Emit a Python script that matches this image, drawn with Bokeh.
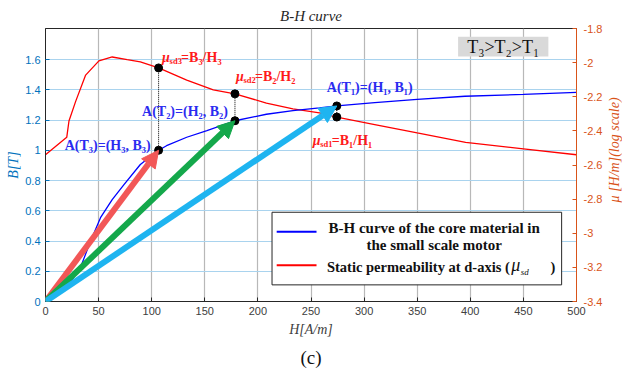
import math
from bokeh.plotting import figure
from bokeh.layouts import row
from bokeh.models import (Range1d, LinearAxis, FixedTicker, CustomJSTickFormatter,
                          Arrow, NormalHead, Title)
from bokeh.core.properties import value
from bokeh.embed import file_html
from bokeh.resources import INLINE

# ---------------- data ----------------
H_bh = [0, 10, 20, 23.7, 33.1, 42.5, 51.8, 62.8, 73.7, 89.3, 106.5, 114, 133, 152,
        178.4, 208, 233, 258, 274.3, 310, 350, 395, 450, 500]
B_bh = [0, 0.04, 0.09, 0.13, 0.228, 0.40, 0.554, 0.674, 0.771, 0.906, 1.0, 1.03, 1.086,
        1.13, 1.195, 1.238, 1.262, 1.28, 1.293, 1.315, 1.336, 1.357, 1.369, 1.383]

H_mu = [0, 20, 22.1, 28.4, 37.8, 50.3, 62.8, 76.9, 89.3, 106.5, 133, 158, 178.4, 208,
        233, 258, 274.3, 310, 350, 395.6, 450, 500]
MU = [-2.54, -2.438, -2.342, -2.227, -2.073, -1.990, -1.967, -1.983, -1.996, -2.031,
      -2.102, -2.16, -2.183, -2.237, -2.271, -2.294, -2.319, -2.363, -2.412, -2.467,
      -2.505, -2.54]

# operating points A(T3), A(T2), A(T1)
H_pts = [106.5, 178.4, 274.3]
B_pts = [1.0, 1.195, 1.293]
MU_pts = [-2.031, -2.183, -2.319]

H_ticks = [0, 50, 100, 150, 200, 250, 300, 350, 400, 450, 500]
B_ticks = [0, 0.2, 0.4, 0.6, 0.8, 1.0, 1.2, 1.4, 1.6]
MU_ticks = [-3.4, -3.2, -3.0, -2.8, -2.6, -2.4, -2.2, -2.0, -1.8]

B_RANGE = (0, 1.805)
MU_RANGE = (-3.4, -1.8)

SERIF = "Liberation Serif"
SANS = "Liberation Sans"
BLUE_AX = "#0072BD"
ORANGE_AX = "#D95319"

p = figure(width=605, height=372, x_range=Range1d(0, 500), y_range=Range1d(*B_RANGE),
           output_backend="svg", toolbar_location=None,
           min_border_left=45, min_border_right=28, min_border_top=24, min_border_bottom=70)
p.extra_y_ranges = {"mu": Range1d(*MU_RANGE)}
p.background_fill_color = "white"
p.border_fill_color = "white"
p.outline_line_color = "#262626"
p.outline_line_width = 1

fmt = CustomJSTickFormatter(code="return String(Number(tick.toFixed(2)));")

# title
p.title.text = "B-H curve"
p.title.align = "center"
p.title.text_font = SERIF
p.title.text_font_style = "italic"
p.title.text_font_size = "15px"
p.title.text_color = "#262626"

# x axis
xa = p.xaxis[0]
xa.ticker = FixedTicker(ticks=H_ticks)
xa.axis_label = "H[A/m]"
xa.axis_label_text_font = SERIF
xa.axis_label_text_font_style = "italic"
xa.axis_label_text_font_size = "14px"
xa.axis_label_text_color = "#404040"
xa.axis_label_standoff = 4
xa.major_label_text_font = SANS
xa.major_label_text_font_size = "11px"
xa.major_label_text_color = "#404040"
xa.major_label_standoff = 5
xa.major_tick_in = 4
xa.major_tick_out = 0
xa.minor_tick_line_color = None
xa.axis_line_color = "#262626"
xa.major_tick_line_color = "#262626"

# left axis
ya = p.yaxis[0]
ya.ticker = FixedTicker(ticks=B_ticks)
ya.formatter = fmt
ya.axis_label = "B[T]"
ya.axis_label_text_font = SERIF
ya.axis_label_text_font_style = "italic"
ya.axis_label_text_font_size = "14px"
ya.axis_label_text_color = BLUE_AX
ya.axis_label_standoff = 1
ya.major_label_text_font = SANS
ya.major_label_text_font_size = "11px"
ya.major_label_text_color = BLUE_AX
ya.major_label_standoff = 5
ya.major_tick_in = 4
ya.major_tick_out = 0
ya.minor_tick_line_color = None
ya.axis_line_color = "#262626"
ya.major_tick_line_color = BLUE_AX

# right axis
ra = LinearAxis(y_range_name="mu", ticker=FixedTicker(ticks=MU_ticks), formatter=fmt)
ra.major_label_text_font = SANS
ra.major_label_text_font_size = "11px"
ra.major_label_text_color = ORANGE_AX
ra.major_label_standoff = 7
ra.major_tick_in = 4
ra.major_tick_out = 0
ra.minor_tick_line_color = None
ra.axis_line_color = ORANGE_AX
ra.major_tick_line_color = ORANGE_AX
p.add_layout(ra, "right")

# "(c)" caption
cap = Title(text="(c)", align="center", text_font=SERIF, text_font_size="19px",
            text_font_style="normal", text_color="#111111")
p.add_layout(cap, "below")

# grids
p.xgrid.ticker = FixedTicker(ticks=H_ticks)
p.xgrid.grid_line_color = "#b8b8b8"
p.xgrid.grid_line_width = 1.2
p.ygrid.ticker = FixedTicker(ticks=B_ticks)
p.ygrid.grid_line_color = "#a9d3ee"
p.ygrid.grid_line_width = 1.2

# curves
p.line(H_mu, MU, y_range_name="mu", line_color="#ff0000", line_width=1.3)
p.line(H_bh, B_bh, line_color="#0000ff", line_width=1.3)

# dotted links
for h, b, m in zip(H_pts, B_pts, MU_pts):
    m_left = (m - MU_RANGE[0]) / (MU_RANGE[1] - MU_RANGE[0]) * (B_RANGE[1] - B_RANGE[0]) + B_RANGE[0]
    p.line([h, h], [b, m_left], line_color="black", line_dash="1 1", line_width=1)

# arrows
ARROW_COLS = ["#f25757", "#14a84b", "#1eb4f0"]
for h, b, c in zip(H_pts, B_pts, ARROW_COLS):
    p.add_layout(Arrow(x_start=0, y_start=0, x_end=h, y_end=b, line_color=c, line_width=6,
                       end=NormalHead(size=17, fill_color=c, line_color=c, line_width=1)))

# dots
p.scatter(H_pts, B_pts, size=8, color="black")
p.scatter(H_pts, MU_pts, size=8, color="black", y_range_name="mu")


def txt(fig, x, y, s, size, color, style="bold", align="left", xo=0, yo=0, rng="default",
        font=SERIF, baseline="middle", angle=0):
    fig.text(x=[x], y=[y], text=[s], text_font=value(font), text_font_size=f"{size}px",
             text_font_style=style, text_color=color, text_align=align,
             text_baseline=baseline, x_offset=xo, y_offset=yo, y_range_name=rng,
             angle=angle)


A_BLUE = "#2b2bf0"
A_LABELS = ["A(T\u2083)=(H\u2083, B\u2083)", "A(T\u2082)=(H\u2082, B\u2082)", "A(T\u2081)=(H\u2081, B\u2081)"]
A_OFF = [(-8, -5, "right"), (-7, -9, "right"), (-10, -18, "left")]
for h, b, s, (xo, yo, al) in zip(H_pts, B_pts, A_LABELS, A_OFF):
    txt(p, h, b, s, 14, A_BLUE, align=al, xo=xo, yo=yo)

MU_RED = "#ff1a1a"
MU_SUB = ["sd3", "sd2", "sd1"]
MU_RHS = ["=B\u2083/H\u2083", "=B\u2082/H\u2082", "=B\u2081/H\u2081"]
MU_OFF = [(3.5, -10), (1, -17.5), (-24, 23)]
for h, m, sub, rhs, (xo, yo) in zip(H_pts, MU_pts, MU_SUB, MU_RHS, MU_OFF):
    txt(p, h, m, "\u03bc", 14, MU_RED, style="bold italic", xo=xo, yo=yo, rng="mu")
    txt(p, h, m, sub, 8.5, MU_RED, style="bold", xo=xo + 7.5, yo=yo + 3.5, rng="mu")
    txt(p, h, m, rhs, 14, MU_RED, style="bold", xo=xo + 19, yo=yo, rng="mu")

# T3>T2>T1 box (top right)
p.quad(left=[388.5], right=[473.5], bottom=[1.62], top=[1.75], fill_color="#d9d9d9",
       line_color=None)
txt(p, 431, 1.685, "T\u2083>T\u2082>T\u2081", 18, "#111111", style="normal", align="center")

# legend (drawn manually)
p.quad(left=[213.3], right=[486], bottom=[0.11], top=[0.59], fill_color="white",
       line_color="#262626", line_width=1)
p.line([217.7, 255.2], [0.461, 0.461], line_color="#0000ff", line_width=2)
p.line([217.7, 255.2], [0.239, 0.239], line_color="#ff0000", line_width=2)
txt(p, 366, 0.487, "B-H curve of the core material in", 15, "#111111", align="center")
txt(p, 366, 0.374, "the small scale motor", 15, "#111111", align="center")
txt(p, 265, 0.228, "Static permeability at d-axis (", 14.5, "#111111", align="left")
txt(p, 438.5, 0.228, "\u03bc", 18, "#111111", style="italic", align="left", yo=-2)
txt(p, 447.5, 0.228, "sd", 9, "#111111", style="italic", align="left", yo=5)
txt(p, 475.5, 0.228, ")", 14.5, "#111111", align="left")

# narrow strip on the right holding the right-axis title (reads bottom-to-top)
q = figure(width=17, height=372, x_range=Range1d(0, 1), y_range=Range1d(0, 372),
           output_backend="svg", toolbar_location=None, min_border=0)
q.axis.visible = False
q.grid.visible = False
q.outline_line_color = None
q.background_fill_color = "white"
q.border_fill_color = "white"
txt(q, 0.5, 372 - 163, "\u03bc  [H/m](log scale)", 14, ORANGE_AX, style="italic",
    align="center", angle=math.pi / 2)

page = row(p, q, spacing=0)
open("out.html", "w").write(file_html(page, INLINE))
